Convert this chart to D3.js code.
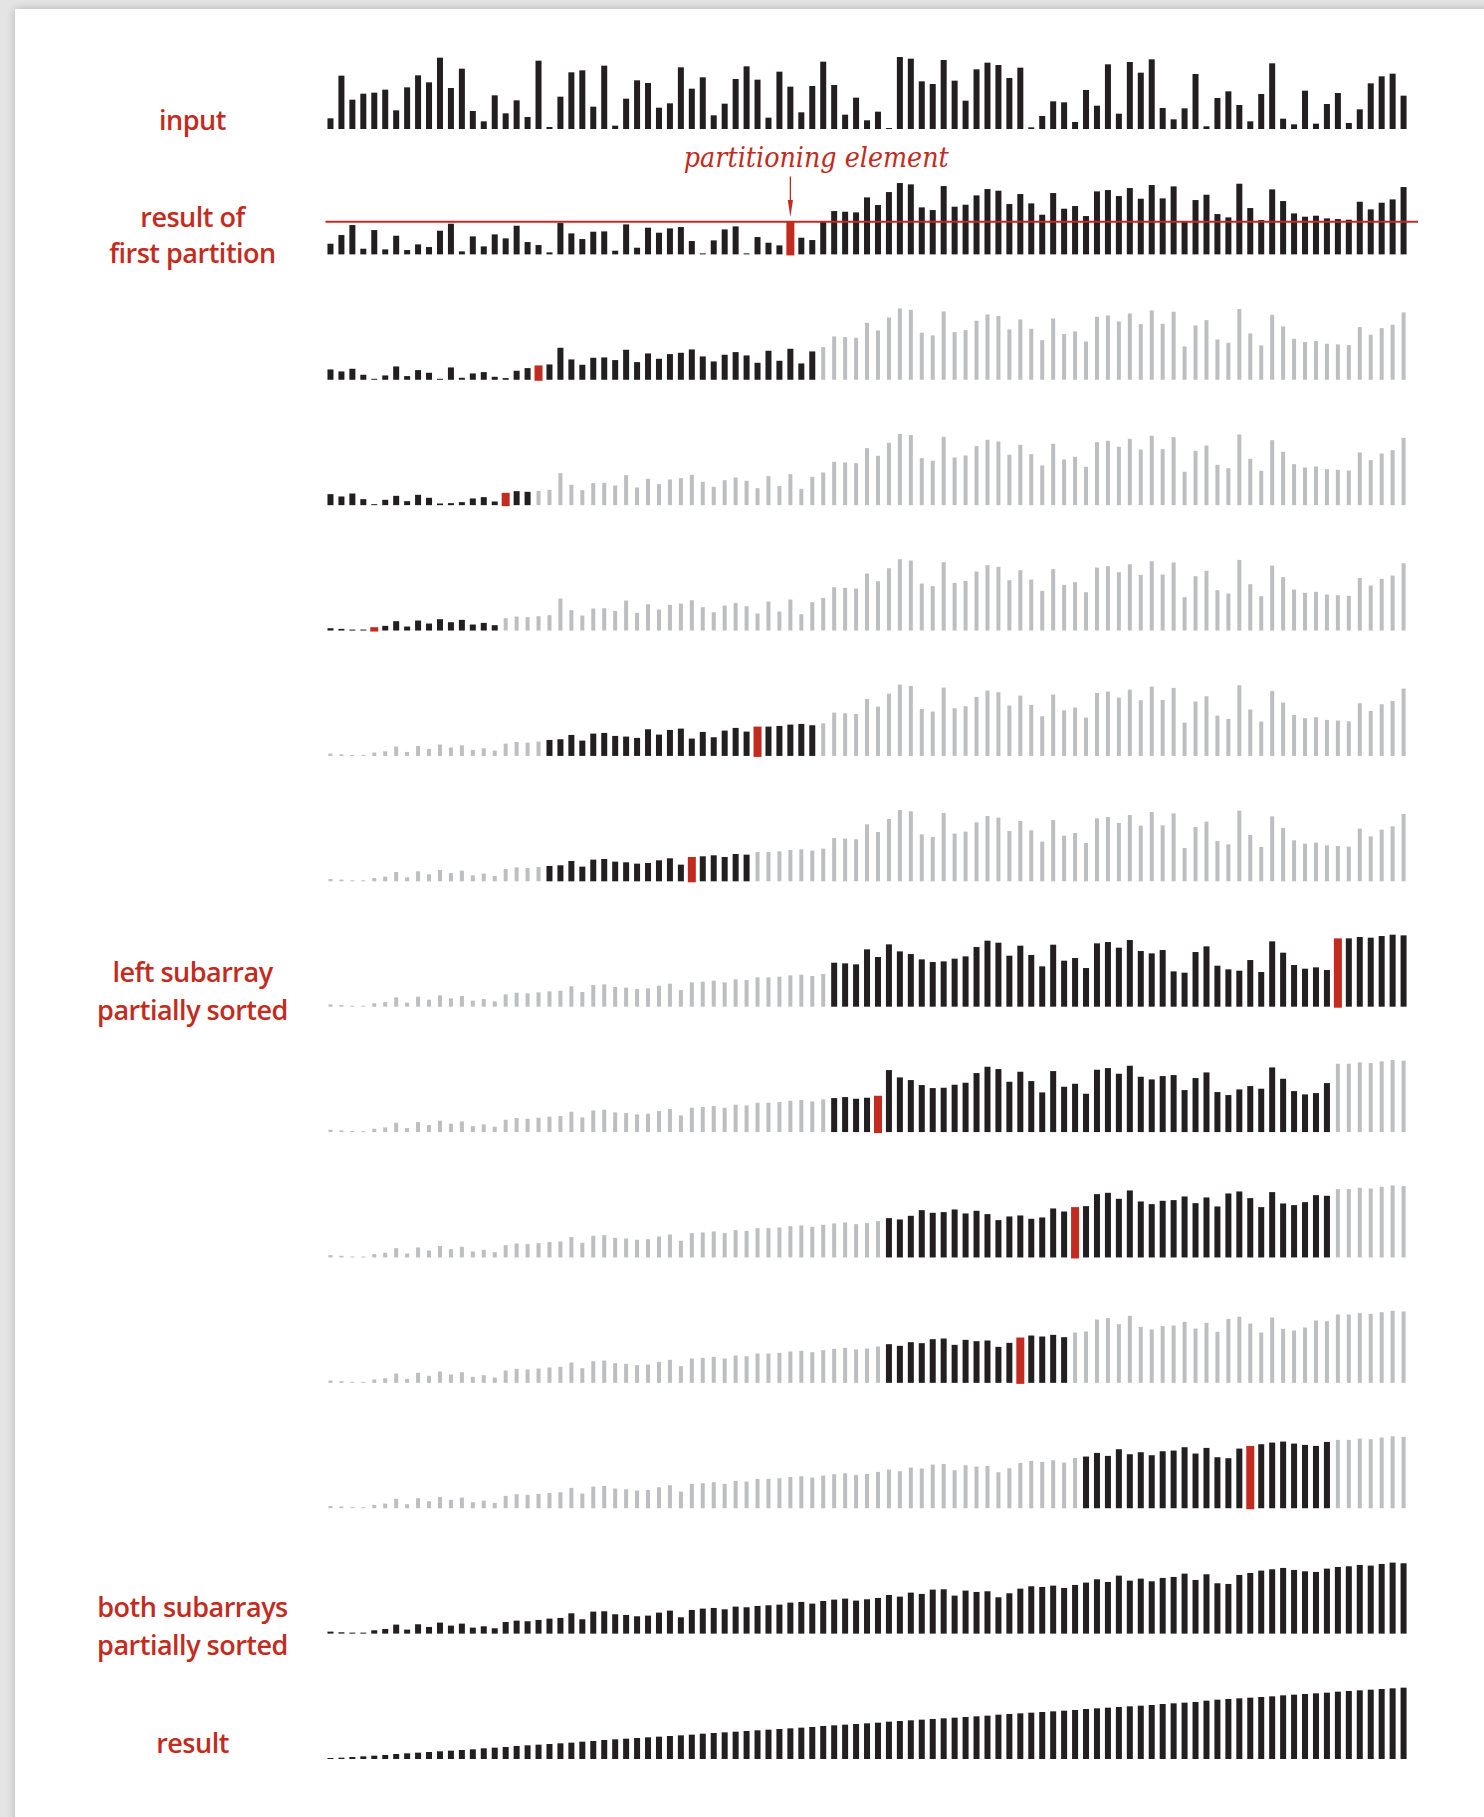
<!DOCTYPE html>
<html>
<head>
<meta charset="utf-8">
<script src="https://cdn.jsdelivr.net/npm/d3@7"></script>
<style>
  body { margin: 0; background: #e6e6e6; }
  svg { display: block; }
</style>
</head>
<body>
<script>
// bar heights (same units in every row)
const inputValues = [32,160,88,106,109,118,56,125,161,140,214,123,181,54,23,101,47,86,36,205,
    6,97,170,176,67,190,10,91,146,138,64,77,185,121,155,41,76,150,188,148,
    34,172,127,50,129,202,132,43,94,26,52,3,216,211,143,135,207,145,85,179,
    199,192,153,184,5,39,83,80,21,117,70,194,46,201,169,209,63,29,62,165,
    8,93,113,72,23,105,197,31,14,115,16,75,108,18,59,137,158,166,100]

const firstPartition = [32,58,88,17,73,15,56,13,30,22,71,92,9,54,24,60,48,86,37,28,
    6,94,63,46,68,69,11,90,20,80,65,78,82,40,3,42,75,84,3,52,
    35,27,98,50,43,98,130,128,126,171,148,187,214,210,141,133,205,143,149,177,
    196,191,151,181,153,119,184,137,145,115,189,193,175,199,167,208,168,204,100,163,
    179,121,111,212,139,103,195,160,123,113,116,108,106,104,158,135,155,165,202]
const firstPivot = 42

// later passes: only the black subarray changes, the grey bars keep the previous row
const segmentLo = [0, 0, 0, 20, 20, 46, 46, 51, 51, 69]
const segmentPivot = [19, 16, 4, 39, 33, 92, 50, 68, 63, 84]
const segmentValues = [
    [31,25,33,15,1,13,40,11,29,21,3,37,6,19,23,9,5,27,35,43,46,96,61,45,66,67,59,90,53,79,63,77,81,91,70,55,75,83,73,51,87,57,93,49,85],
    [33,26,35,18,3,16,28,12,31,22,5,6,9,20,24,11,37,42,40],
    [7,5,3,1,10,14,28,12,30,21,34,25,32,18,23,16],
    [48,50,63,46,67,69,60,58,54,80,64,78,82,52,72,56,76,84,73,88,88,90,94,96,92],
    [46,48,61,44,65,67,59,57,53,55,63,69,50,73,75,78,73,82,80],
    [132,130,127,172,149,187,166,158,142,134,136,144,151,179,198,192,153,183,155,121,
     186,138,146,116,190,194,177,200,167,160,170,106,102,164,181,123,112,108,140,104,
     196,162,125,114,118,110,205,205,209,207,212,216,214],
    [102,105,100,103,109,186,164,156,141,132,133,142,148,177,196,189,151,181,153,119,
     183,136,145,115,187,192,175,199,166,158,168,171,126,162,179,120,111,128,138,130,
     194,160,123,113,117,147],
    [118,114,125,142,134,136,144,132,140,130,112,123,126,116,120,147,138,151,154,190,
     194,176,201,168,160,170,172,183,163,180,153,192,198,178,151,196,162,157,166,187,185],
    [116,111,122,119,131,133,114,129,125,127,108,120,136,142,139,144,137],
    [155,166,157,177,162,168,159,171,173,183,164,181,153,150,179,187,192,197,200,194,190,187,199]
]

const bothSortedValues = [6,4,2,1,10,14,27,12,28,20,33,24,30,18,22,16,35,39,37,41,
    45,47,61,43,66,67,58,56,52,54,63,69,49,71,75,77,73,81,79,83,
    85,87,93,95,90,98,102,105,99,103,107,116,111,123,119,132,133,114,129,125,
    127,109,121,135,142,140,144,137,146,153,163,155,174,159,165,157,167,170,180,161,
    178,151,149,176,182,189,193,197,191,187,185,195,200,202,206,204,209,213,211]

const resultValues = [3,4,6,8,10,12,15,17,19,21,23,25,27,29,32,34,36,39,41,43,
    45,47,49,52,54,57,59,61,63,65,67,69,71,73,76,78,80,82,84,86,
    88,90,92,94,96,99,101,103,105,107,109,112,114,116,118,120,122,124,126,128,
    130,133,135,137,139,141,143,145,147,150,152,154,156,158,160,162,165,167,169,171,
    175,178,180,182,184,186,188,191,193,195,197,199,202,204,206,208,210,212,214]

const labelLines = [
    ["input"],
    ["result of", "first partition"],
    ["left subarray", "partially sorted"],
    ["both subarrays", "partially sorted"],
    ["result"]
]
const annotationText = "partitioning element"

const svgWidth = 1484
const svgHeight = 1817
const RED = "#c32b20"
const BLACK = "#231f20"
const GREY = "#bdbec2"

window.onload = main

function main() {
    render(build_rows())
}

function build_rows() {
    const n = inputValues.length
    const rows = []
    rows.push({values: inputValues, lo: 0, hi: n - 1, pivot: -1})
    rows.push({values: firstPartition, lo: 0, hi: n - 1, pivot: firstPivot})
    let current = firstPartition
    segmentValues.forEach((seg, k) => {
        current = current.slice()
        seg.forEach((v, j) => current[segmentLo[k] + j] = v)
        rows.push({values: current, lo: segmentLo[k], hi: segmentLo[k] + seg.length - 1, pivot: segmentPivot[k]})
    })
    rows.push({values: bothSortedValues, lo: 0, hi: n - 1, pivot: -1})
    rows.push({values: resultValues, lo: 0, hi: n - 1, pivot: -1})
    return rows
}

function render(rows) {
    const n = inputValues.length

    const svg = d3.select("body").append("svg")
        .attr("width", svgWidth)
        .attr("height", svgHeight)

    // page edge with soft shadow
    const defs = svg.append("defs")
    defs.append("filter").attr("id", "shadow")
        .attr("x", "-5%").attr("y", "-5%").attr("width", "110%").attr("height", "110%")
        .append("feGaussianBlur").attr("stdDeviation", 4)
    svg.append("rect").attr("width", svgWidth).attr("height", svgHeight).attr("fill", "#e4e4e4")
    svg.append("rect")
        .attr("x", 15).attr("y", 9).attr("width", svgWidth + 20).attr("height", svgHeight + 20)
        .attr("fill", "#000").attr("opacity", 0.22).attr("filter", "url(#shadow)")
    svg.append("rect")
        .attr("x", 15).attr("y", 9).attr("width", svgWidth).attr("height", svgHeight)
        .attr("fill", "#fff")

    const scaleX = d3.scaleBand()
        .domain(d3.range(n))
        .range([325, 1409.05])
    const step = scaleX.step()

    const scaleH = d3.scaleLinear()
        .domain([0, 216])
        .range([0, 72])

    const scaleRow = d3.scaleLinear()
        .domain([0, rows.length - 1])
        .range([129, 1759])

    const barKind = (row, i) => i === row.pivot ? "red" : (i >= row.lo && i <= row.hi ? "black" : "grey")
    const barWidth = {black: 6, grey: 4, red: 8}
    const barColor = {black: BLACK, grey: GREY, red: RED}

    const gRows = svg.selectAll("g.row")
        .data(rows)
        .join("g")
        .attr("class", "row")
        .attr("transform", (d, k) => `translate(0, ${scaleRow(k)})`)

    gRows.selectAll("rect")
        .data(row => row.values.map((v, i) => ({v: v, i: i, kind: barKind(row, i)})))
        .join("rect")
        .attr("x", d => scaleX(d.i) + step / 2 - barWidth[d.kind] / 2)
        .attr("width", d => barWidth[d.kind])
        .attr("y", d => -Math.max(1, scaleH(d.v)))
        .attr("height", d => Math.max(1, scaleH(d.v)) + (d.kind === "red" ? 1 : 0))
        .attr("fill", d => barColor[d.kind])

    // level of the first partitioning element
    const lineY = scaleRow(1) - scaleH(firstPartition[firstPivot])
    svg.append("line")
        .attr("x1", 325.5).attr("x2", 1418)
        .attr("y1", lineY).attr("y2", lineY)
        .attr("stroke", RED).attr("stroke-width", 2)

    const arrowX = scaleX(firstPivot) + step / 2
    svg.append("line")
        .attr("x1", arrowX).attr("x2", arrowX)
        .attr("y1", 176.5).attr("y2", 204)
        .attr("stroke", RED).attr("stroke-width", 1.3)
    svg.append("path")
        .attr("d", `M${arrowX - 2.6},200 L${arrowX},217 L${arrowX + 2.6},200 Z`)
        .attr("fill", RED)

    svg.append("text")
        .attr("x", 816.3).attr("y", 167)
        .attr("text-anchor", "middle")
        .attr("textLength", 265)
        .attr("lengthAdjust", "spacingAndGlyphs")
        .style("font-family", "'DejaVu Serif', serif")
        .style("font-style", "italic")
        .style("font-size", "27px")
        .attr("fill", RED)
        .text(annotationText)

    const labelBaselines = [[130], [226.7, 263.3], [981.6, 1019.8], [1616.5, 1654.7], [1753]]
    labelLines.forEach((lines, k) => {
        lines.forEach((line, j) => {
            svg.append("text")
                .attr("x", 192.5)
                .attr("y", labelBaselines[k][j])
                .attr("text-anchor", "middle")
                .style("font-family", "'Open Sans', sans-serif")
                .style("font-weight", 600)
                .style("font-size", "27px")
                .style("letter-spacing", "-0.5px")
                .attr("fill", RED)
                .text(line)
        })
    })
}
</script>
</body>
</html>
